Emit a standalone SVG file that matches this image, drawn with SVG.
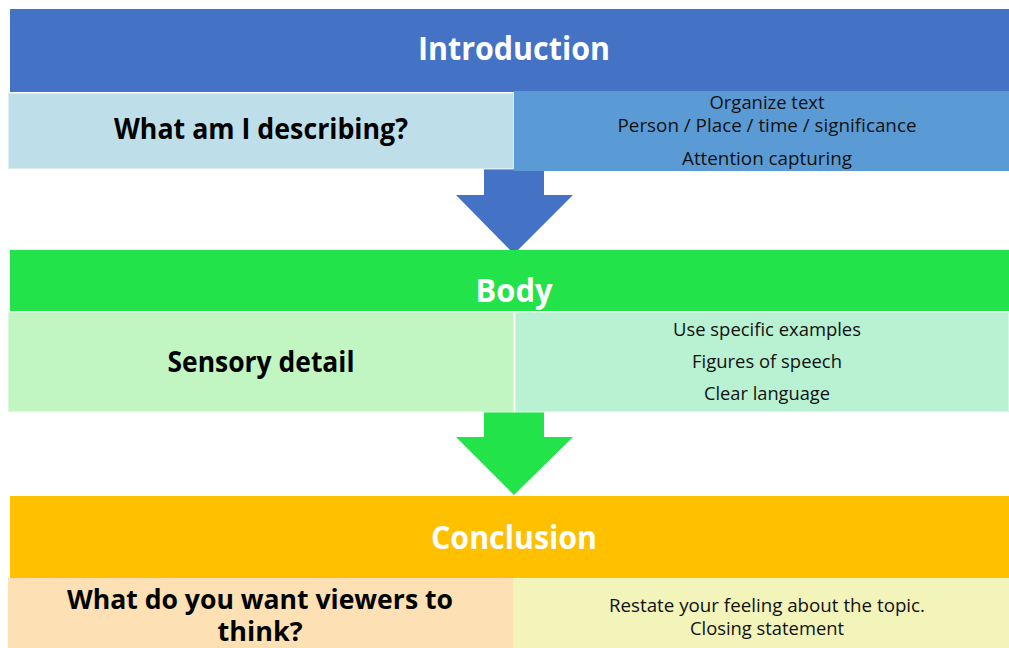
<svg xmlns="http://www.w3.org/2000/svg" width="1009" height="648" viewBox="0 0 1009 648">
<style>
text{font-family:"Open Sans","Noto Sans","Liberation Sans",sans-serif;text-anchor:middle}
.h{fill:#fff;font-weight:bold;font-size:32px}
.q{fill:#000;font-weight:bold;font-size:28px}
.d{fill:#111;font-size:17.5px}
.lb{stroke:#fff;stroke-opacity:0.4;stroke-width:2}
</style>
<rect width="1009" height="648" fill="#fff"/>
<g id="connectors">
<polygon points="484,169 544,169 544,195 573,195 514,254 456,195 484,195" fill="#4472C4"/>
<polygon points="484,412 544,412 544,437 573,437 514,495 456,437 484,437" fill="#22E34A"/>
</g>
<g id="intro">
<rect x="10" y="9" width="999" height="83" fill="#4472C4"/>
<text class="h" x="514" y="60" textLength="192" lengthAdjust="spacingAndGlyphs">Introduction</text>
</g>
<g id="intro-left">
<rect class="lb" x="8" y="93" width="506" height="76" fill="#BEDFE9"/>
<text class="q" x="261" y="139" textLength="294" lengthAdjust="spacingAndGlyphs">What am I describing?</text>
</g>
<g id="intro-right">
<rect x="514" y="91" width="495" height="80" fill="#5B9BD5"/>
<text class="d" x="767" y="109" textLength="115" lengthAdjust="spacingAndGlyphs">Organize text</text>
<text class="d" x="767" y="132" textLength="299" lengthAdjust="spacingAndGlyphs">Person / Place / time / significance</text>
<text class="d" x="767" y="165" textLength="170" lengthAdjust="spacingAndGlyphs">Attention capturing</text>
</g>
<g id="body">
<rect x="10" y="250" width="999" height="61" fill="#22E34A"/>
<text class="h" x="514" y="302" textLength="77" lengthAdjust="spacingAndGlyphs">Body</text>
</g>
<g id="body-left">
<rect class="lb" x="8" y="312" width="506" height="100" fill="#C1F5C1"/>
<text class="q" x="261" y="372" textLength="187" lengthAdjust="spacingAndGlyphs">Sensory detail</text>
</g>
<g id="body-right">
<rect class="lb" x="515" y="312" width="494" height="100" fill="#B8F2D3"/>
<text class="d" x="767" y="336" textLength="188" lengthAdjust="spacingAndGlyphs">Use specific examples</text>
<text class="d" x="767" y="368" textLength="150" lengthAdjust="spacingAndGlyphs">Figures of speech</text>
<text class="d" x="767" y="400" textLength="126" lengthAdjust="spacingAndGlyphs">Clear language</text>
</g>
<g id="conclusion">
<rect x="10" y="496" width="999" height="82" fill="#FFC000"/>
<text class="h" x="514" y="549" textLength="166" lengthAdjust="spacingAndGlyphs">Conclusion</text>
</g>
<g id="conclusion-left">
<rect x="8" y="578" width="505" height="70" fill="#FDE0B3"/>
<text class="q" x="260" y="609" style="font-size:26.5px" textLength="386" lengthAdjust="spacingAndGlyphs">What do you want viewers to</text>
<text class="q" x="260" y="641" style="font-size:26.5px" textLength="85" lengthAdjust="spacingAndGlyphs">think?</text>
</g>
<g id="conclusion-right">
<rect x="513" y="578" width="496" height="70" fill="#F3F4BA"/>
<text class="d" x="767" y="612" textLength="316" lengthAdjust="spacingAndGlyphs">Restate your feeling about the topic.</text>
<text class="d" x="767" y="635" textLength="154" lengthAdjust="spacingAndGlyphs">Closing statement</text>
</g>
</svg>
